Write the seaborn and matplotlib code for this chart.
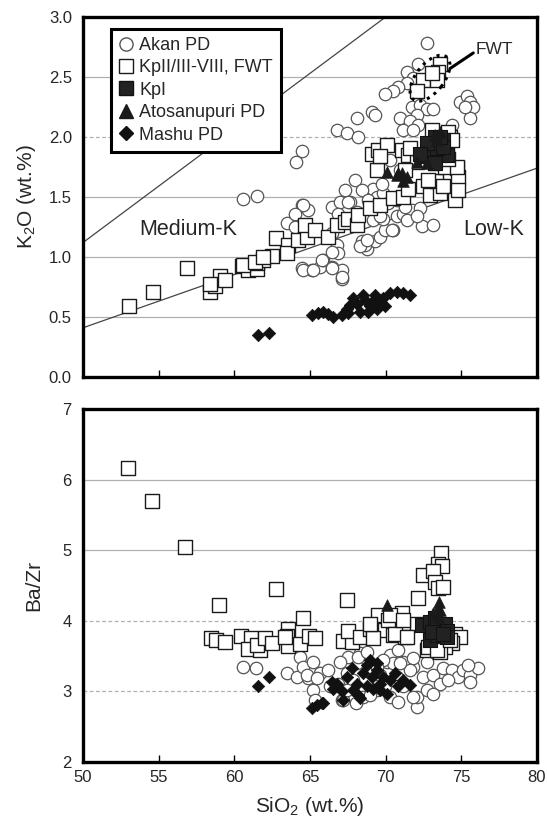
import matplotlib
matplotlib.use("Agg")
import numpy as np
import pandas as pd
import seaborn as sns
import matplotlib.pyplot as plt
from matplotlib.lines import Line2D
from matplotlib.patches import Ellipse
from matplotlib import transforms

# ---- K2O vs SiO2 (upper panel), points as (SiO2, K2O) ----
akan_k2o = [(72.71, 2.78), (71.39, 2.54), (72.16, 2.61), (71.81, 2.49), (71.39, 2.45), (70.84, 2.42),
            (70.50, 2.38), (69.96, 2.36), (74.91, 2.29), (75.35, 2.34), (75.57, 2.29), (75.77, 2.25),
            (75.57, 2.16), (75.24, 2.25), (71.72, 2.25), (72.27, 2.27), (72.71, 2.23), (73.13, 2.23),
            (72.05, 2.18), (70.95, 2.16), (71.61, 2.13), (72.16, 2.10), (71.17, 2.06), (71.83, 2.06),
            (74.36, 2.10), (69.08, 2.21), (69.30, 2.18), (68.09, 2.16), (66.76, 2.06), (67.43, 2.03),
            (68.19, 2.00), (64.45, 1.88), (64.08, 1.79), (60.55, 1.48), (61.48, 1.51), (64.45, 1.43),
            (64.89, 1.39), (66.43, 1.42), (66.98, 1.46), (67.64, 1.46), (63.46, 1.28), (64.01, 1.25),
            (66.76, 1.27), (67.31, 1.32), (66.43, 1.20), (66.76, 1.10), (66.87, 1.03), (64.45, 0.91),
            (65.11, 0.89), (65.66, 0.92), (65.88, 0.975), (66.43, 0.92), (67.09, 0.89), (67.09, 0.82),
            (68.42, 1.13), (68.75, 1.07), (69.30, 1.13), (69.63, 1.17), (69.96, 1.225), (70.50, 1.225),
            (69.18, 1.31), (69.84, 1.32), (70.73, 1.34), (71.17, 1.36), (71.72, 1.39), (72.27, 1.41),
            (69.18, 1.57), (69.41, 1.50), (69.84, 1.53), (70.17, 1.45), (70.73, 1.475), (71.28, 1.42),
            (69.74, 1.61), (72.38, 1.26), (73.15, 1.27), (64.56, 0.89), (65.22, 0.89), (65.77, 0.975),
            (66.43, 0.91), (67.09, 0.835), (66.43, 1.04), (68.63, 1.10), (64.56, 1.43), (64.01, 1.36),
            (66.87, 1.36), (67.53, 1.46), (69.63, 1.34), (70.40, 1.225), (71.39, 1.31), (72.05, 1.34),
            (68.30, 1.09), (68.75, 1.14), (67.97, 1.64), (68.44, 1.56), (68.83, 1.475), (70.29, 1.81),
            (70.95, 1.725), (67.31, 1.56), (68.11, 1.375)]

kp2_k2o = [(53.06, 0.59), (54.65, 0.71), (56.85, 0.91), (58.39, 0.71), (58.72, 0.76), (59.05, 0.84),
           (59.38, 0.81), (58.39, 0.775), (60.49, 0.925), (60.92, 0.89), (61.48, 0.90), (61.48, 0.95),
           (61.91, 0.975), (62.47, 1.01), (62.75, 1.16), (60.59, 0.93), (61.37, 0.96), (61.91, 1.00),
           (63.57, 1.10), (63.46, 1.03), (64.23, 1.14), (64.78, 1.17), (64.67, 1.27), (65.33, 1.225),
           (66.21, 1.17), (66.76, 1.27), (67.31, 1.29), (67.53, 1.32), (68.09, 1.27), (68.19, 1.35),
           (68.97, 1.41), (69.63, 1.43), (70.50, 1.49), (71.17, 1.50), (71.50, 1.57), (72.49, 1.59),
           (72.93, 1.52), (73.59, 1.53), (73.37, 1.63), (74.25, 1.64), (74.69, 1.74), (74.80, 1.67),
           (73.81, 1.59), (72.82, 1.64), (69.08, 1.86), (69.51, 1.89), (70.07, 1.93), (69.41, 1.725),
           (71.06, 1.89), (71.50, 1.85), (72.05, 1.79), (71.28, 1.725), (73.26, 1.78), (73.92, 1.75),
           (74.03, 1.85), (74.25, 2.00), (69.63, 1.84), (71.61, 1.91), (73.04, 2.06), (74.14, 2.04),
           (74.36, 1.975), (73.15, 1.81), (74.69, 1.75), (74.14, 1.82), (74.58, 1.475), (74.78, 1.56),
           (73.59, 2.61), (73.48, 2.54), (72.49, 2.475), (73.37, 2.475), (72.05, 2.38), (73.04, 2.53)]

kp1_k2o = [(72.93, 1.92), (73.26, 2.00), (73.81, 1.975), (73.59, 1.85), (74.03, 1.85), (72.71, 1.84),
           (73.37, 1.905), (72.71, 1.95), (72.27, 1.86), (73.26, 1.78), (73.81, 1.92), (73.59, 2.00)]

ato_k2o = [(73.59, 2.04), (73.26, 2.02), (73.37, 1.975), (72.71, 1.78), (72.05, 1.79), (70.07, 1.71),
           (70.73, 1.68), (71.17, 1.63), (71.39, 1.67), (71.06, 1.70), (70.84, 1.70)]

mashu_k2o = [(61.58, 0.35), (62.31, 0.37), (65.11, 0.52), (65.55, 0.53), (65.88, 0.54), (66.54, 0.50),
             (67.09, 0.52), (67.53, 0.53), (67.64, 0.60), (68.09, 0.61), (68.30, 0.54), (68.63, 0.64),
             (68.97, 0.59), (68.85, 0.54), (69.30, 0.68), (69.51, 0.63), (69.84, 0.66), (69.96, 0.59),
             (70.29, 0.70), (70.73, 0.71), (71.17, 0.70), (71.61, 0.68), (67.86, 0.66), (68.52, 0.68),
             (67.43, 0.57), (69.41, 0.57), (66.19, 0.525), (69.10, 0.625)]

# ---- Ba/Zr vs SiO2 (lower panel), points as (SiO2, Ba/Zr) ----
akan_bazr = [(60.55, 3.34), (61.43, 3.33), (63.46, 3.26), (64.34, 3.49), (64.12, 3.21), (64.56, 3.35),
             (65.22, 3.42), (64.89, 3.19), (65.66, 3.26), (66.21, 3.30), (65.22, 3.02), (65.33, 2.88),
             (67.09, 2.88), (66.87, 3.11), (67.43, 3.26), (68.09, 3.40), (67.53, 3.49), (68.30, 3.54),
             (68.75, 3.44), (70.07, 3.42), (70.29, 3.52), (70.84, 3.59), (64.78, 3.23), (65.44, 3.19),
             (66.98, 3.42), (68.19, 3.49), (68.75, 3.56), (67.20, 2.88), (68.52, 2.92), (69.41, 3.02),
             (70.29, 2.92), (70.84, 2.85), (72.05, 2.78), (72.05, 2.92), (72.71, 3.02), (72.49, 3.21),
             (71.83, 3.35), (71.17, 3.42), (70.50, 3.40), (69.84, 3.44), (69.41, 3.35), (72.71, 3.42),
             (73.15, 3.23), (73.81, 3.33), (73.59, 3.11), (74.36, 3.30), (74.80, 3.21), (75.13, 3.30),
             (75.57, 3.23), (75.57, 3.14), (76.12, 3.33), (75.46, 3.37), (74.14, 3.16), (71.17, 3.07),
             (69.96, 3.07), (67.86, 3.16), (67.43, 3.02), (66.32, 3.07), (71.83, 3.47), (73.15, 2.97),
             (71.83, 2.92), (71.61, 3.30), (70.95, 3.40), (70.73, 3.21), (69.63, 3.23), (68.97, 2.95),
             (68.04, 2.84)]

kp2_bazr = [(52.99, 6.17), (54.58, 5.69), (56.76, 5.05), (58.99, 4.22), (58.46, 3.75), (58.79, 3.73),
            (59.38, 3.70), (60.42, 3.78), (61.08, 3.75), (60.92, 3.60), (61.70, 3.59), (61.48, 3.66),
            (62.03, 3.75), (62.47, 3.69), (62.75, 4.45), (67.43, 4.30), (64.56, 4.04), (63.57, 3.89),
            (63.46, 3.78), (63.57, 3.64), (64.34, 3.67), (64.95, 3.78), (65.33, 3.75), (67.16, 3.72),
            (67.76, 3.70), (67.49, 3.86), (68.30, 3.77), (68.97, 3.89), (69.18, 3.87), (69.51, 4.08),
            (69.96, 3.87), (70.17, 4.01), (70.50, 3.80), (69.18, 3.75), (72.16, 4.32), (63.35, 3.77),
            (68.97, 3.96), (71.06, 4.11), (70.29, 4.08), (71.39, 3.92), (72.05, 3.96), (71.28, 3.77),
            (70.62, 3.82), (73.66, 4.96), (73.48, 4.81), (73.70, 4.77), (72.49, 4.65), (73.15, 4.70),
            (73.26, 4.55), (73.48, 4.46), (73.81, 4.48), (71.17, 4.01), (71.39, 3.77), (74.58, 3.82),
            (74.91, 3.77), (74.36, 3.68), (73.92, 3.63), (73.15, 3.61), (72.71, 3.59), (73.59, 3.56),
            (72.82, 3.63), (73.37, 3.59), (74.25, 3.73)]

kp1_bazr = [(72.38, 3.94), (72.93, 3.99), (73.26, 4.04), (73.37, 3.92), (73.92, 3.96), (74.03, 3.85),
            (72.93, 3.73), (73.37, 3.80), (74.03, 3.77), (73.04, 3.84), (73.81, 3.82)]

ato_bazr = [(70.07, 4.22), (73.55, 4.27), (73.37, 4.15), (73.48, 4.06), (73.15, 4.11), (73.59, 4.15)]

mashu_bazr = [(61.58, 3.07), (62.31, 3.20), (65.11, 2.76), (65.44, 2.81), (65.88, 2.83), (66.54, 3.04),
              (66.76, 3.11), (66.43, 3.14), (67.09, 3.00), (67.43, 3.21), (67.76, 3.33), (68.09, 3.11),
              (68.19, 2.95), (68.52, 3.26), (68.75, 3.37), (68.97, 3.44), (69.08, 3.21), (69.18, 3.04),
              (69.41, 3.30), (69.63, 3.11), (69.84, 3.21), (70.07, 2.97), (70.29, 3.16), (70.62, 3.26),
              (70.84, 3.07), (71.17, 3.16), (71.61, 3.09), (67.86, 3.02), (67.20, 2.88), (68.30, 2.90),
              (69.63, 3.02), (65.77, 2.83), (69.41, 3.40), (68.75, 3.07)]

# series boundary lines (Medium-K / High-K and Low-K / Medium-K)
high_k_line = ([50, 70], [1.12, 3.0])
low_k_line = ([50, 80], [0.41, 1.74])
fwt_center = (72.93, 2.49)

legend_order = ["Akan PD", "KpII/III-VIII, FWT", "KpI", "Atosanupuri PD", "Mashu PD"]
draw_order = ["Akan PD", "KpII/III-VIII, FWT", "Mashu PD", "KpI", "Atosanupuri PD"]

styles = {
    "Akan PD": dict(marker="o", s=80, color="white", edgecolor="#555555", linewidth=0.9),
    "KpII/III-VIII, FWT": dict(marker="s", s=95, color="white", edgecolor="#1a1a1a", linewidth=1.0),
    "KpI": dict(marker="s", s=95, color="#222222", edgecolor="#111111", linewidth=0.8),
    "Atosanupuri PD": dict(marker="^", s=70, color="#1a1a1a", edgecolor="#1a1a1a", linewidth=0.5),
    "Mashu PD": dict(marker="D", s=40, color="#111111", edgecolor="#111111", linewidth=0.5),
}


def to_frame(series):
    rows = []
    for name, pts in series.items():
        for x, y in pts:
            rows.append((name, x, y))
    return pd.DataFrame(rows, columns=["group", "sio2", "value"])


top = to_frame({"Akan PD": akan_k2o, "KpII/III-VIII, FWT": kp2_k2o, "KpI": kp1_k2o,
                "Atosanupuri PD": ato_k2o, "Mashu PD": mashu_k2o})
bot = to_frame({"Akan PD": akan_bazr, "KpII/III-VIII, FWT": kp2_bazr, "KpI": kp1_bazr,
                "Atosanupuri PD": ato_bazr, "Mashu PD": mashu_bazr})

sns.set_theme(style="white")
plt.rcParams["font.family"] = ["Liberation Sans", "DejaVu Sans"]
plt.rcParams["mathtext.fontset"] = "custom"
plt.rcParams["mathtext.rm"] = "Liberation Sans"
plt.rcParams["mathtext.it"] = "Liberation Sans:italic"

fig = plt.figure(figsize=(5.47, 8.19), dpi=100)
ax1 = fig.add_axes([0.1517, 0.5397, 0.830, 0.4396])
ax2 = fig.add_axes([0.1517, 0.0696, 0.830, 0.4310])

for ax, df in [(ax1, top), (ax2, bot)]:
    for g in draw_order:
        sub = df[df["group"] == g]
        sns.scatterplot(data=sub, x="sio2", y="value", ax=ax, legend=False, zorder=3, **styles[g])
    ax.set_xlim(50, 80)
    ax.set_xticks(np.arange(50, 81, 5))
    ax.set_axisbelow(True)
    ax.yaxis.grid(True, color="#b0b0b0", linewidth=0.9)
    ax.xaxis.grid(False)
    for sp in ax.spines.values():
        sp.set_visible(True)
        sp.set_color("black")
        sp.set_linewidth(2.4)
    ax.tick_params(axis="x", direction="in", length=5, width=1, color="black",
                   labelsize=12, pad=6, bottom=True)
    ax.tick_params(axis="y", length=0, labelsize=12, pad=8)
    ax.set_xlabel("")

# upper panel
ax1.set_ylim(0, 3)
ax1.set_yticks(np.arange(0, 3.01, 0.5))
ax1.set_yticklabels([f"{v:.1f}" for v in np.arange(0, 3.01, 0.5)])
ax1.tick_params(axis="x", labelbottom=False)
ax1.set_ylabel("K$_2$O (wt.%)", fontsize=15, labelpad=8)
for gl, v in zip(ax1.get_ygridlines(), ax1.get_yticks()):
    if abs(v - 2.0) < 1e-6:
        gl.set_linestyle((0, (3, 2)))

ax1.plot(*high_k_line, color="#444444", linewidth=0.9, zorder=2)
ax1.plot(*low_k_line, color="#444444", linewidth=0.9, zorder=2)
ax1.text(56.94, 1.225, "Medium-K", fontsize=15.5, ha="center", va="center")
ax1.text(77.16, 1.23, "Low-K", fontsize=15.5, ha="center", va="center")

# FWT annotation
trans = fig.dpi_scale_trans + transforms.ScaledTranslation(fwt_center[0], fwt_center[1], ax1.transData)
ax1.add_patch(Ellipse((0, 0), width=0.54, height=0.28, angle=52, transform=trans,
                      fill=False, linestyle=":", linewidth=2.2, edgecolor="black", zorder=5))
ax1.plot([74.25, 75.79], [2.57, 2.70], color="black", linewidth=2.2, zorder=5)
ax1.text(77.2, 2.73, "FWT", fontsize=12.5, ha="center", va="center")

handles = []
for g in legend_order:
    st = styles[g]
    ms = {"o": 9.5, "s": 9.5, "^": 9.5, "D": 7}[st["marker"]]
    handles.append(Line2D([], [], linestyle="", marker=st["marker"], markersize=ms,
                          markerfacecolor=st["color"], markeredgecolor=st["edgecolor"],
                          markeredgewidth=1.0))
leg = ax1.legend(handles, legend_order, loc="upper left", bbox_to_anchor=(0.062, 0.967),
                 borderaxespad=0, frameon=True, fancybox=False, edgecolor="black", framealpha=1,
                 fontsize=13, handlelength=0.8, handletextpad=0.3, labelspacing=0.3, borderpad=0.45)
leg.get_frame().set_linewidth(2.2)
leg.set_zorder(6)

# lower panel
ax2.set_ylim(2, 7)
ax2.set_yticks(np.arange(2, 8, 1))
ax2.set_ylabel("Ba/Zr", fontsize=15, labelpad=14)
ax2.set_xlabel("SiO$_2$ (wt.%)", fontsize=15, labelpad=7)
for gl, v in zip(ax2.get_ygridlines(), ax2.get_yticks()):
    if v in (3, 4):
        gl.set_linestyle((0, (3, 2)))

fig.savefig("out.png", dpi=100)
